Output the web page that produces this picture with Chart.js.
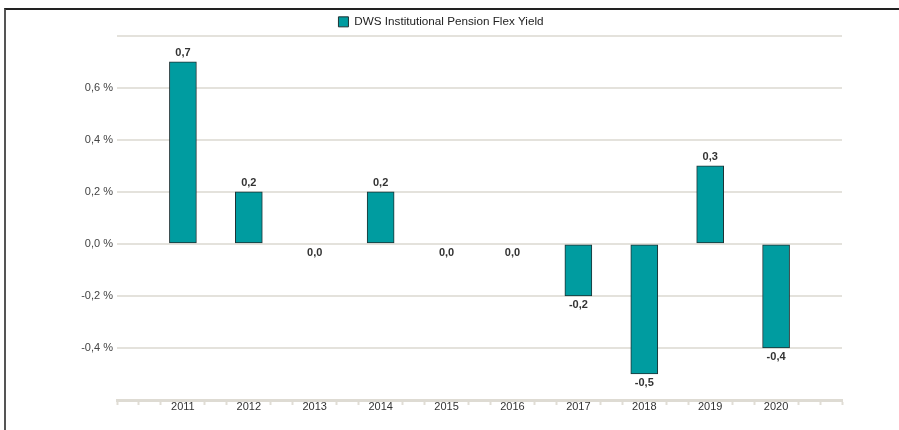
<!DOCTYPE html>
<html>
<head>
<meta charset="utf-8">
<script src="https://cdn.jsdelivr.net/npm/chart.js@4.4.1/dist/chart.umd.min.js"></script>
<style>
  html, body { margin: 0; padding: 0; background: #ffffff; }
  #wrap { position: relative; width: 899px; height: 430px; overflow: hidden; }
  #frame { position: absolute; left: 4px; top: 8px; width: 1000px; height: 1000px;
           border-top: 2px solid #222; border-left: 2px solid #555; pointer-events: none; box-sizing: border-box; }
  canvas { display: block; }
</style>
</head>
<body>
<div id="wrap">
  <canvas id="c" width="899" height="430"></canvas>
  <div id="frame"></div>
</div>
<script>
// ---- data ----
const seriesName = 'DWS Institutional Pension Flex Yield';
const years = [2011, 2012, 2013, 2014, 2015, 2016, 2017, 2018, 2019, 2020];
const yieldValues = [0.7, 0.2, 0.0, 0.2, 0.0, 0.0, -0.2, -0.5, 0.3, -0.4];
const yTickMin = -0.6;
const yTickMax = 0.8;
const yTickStep = 0.2;
const yLabelledMin = -0.4;
const yLabelledMax = 0.6;

const FONT = "'Liberation Sans', Arial, sans-serif";
const fmt = v => v.toFixed(1).replace('.', ',');
const isZero = ctx => ctx.raw && ctx.raw.y === 0;

const dataLabels = {
  id: 'dataLabels',
  afterDatasetsDraw(chart) {
    const ctx = chart.ctx;
    const meta = chart.getDatasetMeta(0);
    ctx.save();
    ctx.font = 'bold 11px ' + FONT;
    ctx.fillStyle = '#333';
    ctx.textAlign = 'center';
    ctx.textBaseline = 'middle';
    meta.data.forEach((el, i) => {
      const v = yieldValues[i];
      const y = v > 0 ? el.y - 9 : el.y + 9;
      ctx.fillText(fmt(v), el.x, y);
    });
    ctx.restore();
  }
};

// tighten the space below the legend a little
const legendFit = {
  id: 'legendFit',
  afterInit(chart) {
    const lg = chart.legend;
    if (lg && !lg._fitPatched) {
      const orig = lg.fit;
      lg.fit = function () { orig.call(this); this.height -= 2; };
      lg._fitPatched = true;
    }
  }
};

new Chart(document.getElementById('c'), {
  type: 'bar',
  data: {
    datasets: [{
      label: seriesName,
      data: years.map((yr, i) => ({ x: yr, y: yieldValues[i] })),
      backgroundColor: ctx => isZero(ctx) ? 'rgba(0,0,0,0)' : '#009ca0',
      borderColor: ctx => isZero(ctx) ? 'rgba(0,0,0,0)' : '#1e3234',
      borderWidth: ctx => isZero(ctx) ? 0 : 1,
      borderSkipped: false,
      barThickness: 27
    }]
  },
  options: {
    responsive: false,
    animation: false,
    devicePixelRatio: 1,
    layout: { padding: { left: 40, right: 57, top: 9, bottom: 0 } },
    plugins: {
      legend: {
        display: true,
        position: 'top',
        labels: {
          boxWidth: 10,
          boxHeight: 10,
          padding: 7,
          color: '#222',
          font: { family: FONT, size: 11.7 }
        }
      },
      tooltip: { enabled: false }
    },
    scales: {
      x: {
        type: 'linear',
        offset: false,
        min: years[0] - 1,
        max: years[years.length - 1] + 1,
        afterBuildTicks: scale => {
          const t = [];
          const n = (scale.max - scale.min) * 3;
          for (let i = 0; i <= n; i++) t.push({ value: scale.min + i / 3 });
          scale.ticks = t;
        },
        afterFit: scale => { scale.height = 30; },
        grid: {
          display: true,
          offset: false,
          drawOnChartArea: false,
          drawTicks: true,
          tickLength: 5,
          tickWidth: 2,
          tickColor: ctx => {
            const v = ctx.tick ? ctx.tick.value : 0;
            const r = Math.round(v);
            return (Math.abs(v - r) < 1e-6 && years.includes(r)) ? 'rgba(0,0,0,0)' : '#e0ddd5';
          }
        },
        border: { display: true, color: '#dedbd3', width: 3 },
        ticks: {
          autoSkip: false,
          maxRotation: 0,
          padding: -5,
          color: '#333',
          font: { family: FONT, size: 11 },
          callback: v => {
            const r = Math.round(v);
            return (Math.abs(v - r) < 1e-6 && years.includes(r)) ? String(r) : '';
          }
        }
      },
      y: {
        min: yTickMin,
        max: yTickMax,
        afterFit: scale => { scale.width = 77; },
        grid: {
          color: '#e4e2dc',
          lineWidth: 2,
          drawTicks: false
        },
        border: { display: false },
        ticks: {
          stepSize: yTickStep,
          padding: 4,
          color: '#444',
          font: { family: FONT, size: 11 },
          callback: v => {
            const r = Math.round(v * 10) / 10;
            return (r >= yLabelledMin - 1e-9 && r <= yLabelledMax + 1e-9) ? fmt(r) + ' %' : '';
          }
        }
      }
    }
  },
  plugins: [dataLabels, legendFit]
});
</script>
</body>
</html>
